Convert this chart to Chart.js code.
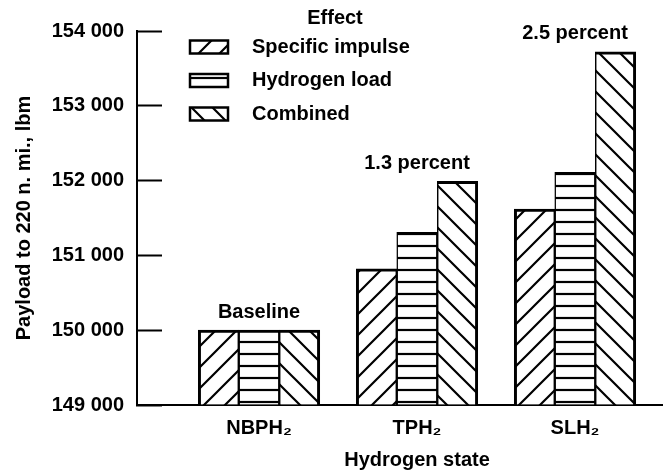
<!DOCTYPE html>
<html><head><meta charset="utf-8">
<script src="https://cdn.jsdelivr.net/npm/chart.js@4/dist/chart.umd.min.js"></script>
<style>html,body{margin:0;padding:0;background:#fff;overflow:hidden;width:663px;height:471px;}</style>
</head><body>
<canvas id="c" width="697" height="471"></canvas>
<script>
const categories = ['NBPH₂', 'TPH₂', 'SLH₂'];
const seriesNames = ['Specific impulse', 'Hydrogen load', 'Combined'];
const specificImpulse = [150000, 150820, 151620];
const hydrogenLoad = [150000, 151310, 152110];
const combined = [150000, 151990, 153720];
const groupNotes = ['Baseline', '1.3 percent', '2.5 percent'];
const yTickValues = [149000, 150000, 151000, 152000, 153000, 154000];
const yTickLabels = ['149 000', '150 000', '151 000', '152 000', '153 000', '154 000'];
const legendTitle = 'Effect';
const xTitle = 'Hydrogen state';
const yTitle = 'Payload to 220 n. mi., lbm';

const FAMILY = "'Liberation Sans', Arial, Helvetica, sans-serif";
const FONT = {family: FAMILY, size: 20, weight: 'bold'};

function makePattern(kind) {
  const s = kind === 'h' ? 12 : 21;
  const c = document.createElement('canvas');
  c.width = s; c.height = s;
  const g = c.getContext('2d');
  g.fillStyle = '#fff'; g.fillRect(0, 0, s, s);
  g.strokeStyle = '#000'; g.lineWidth = 2.2;
  g.beginPath();
  if (kind === 'h') {
    g.moveTo(0, s / 2); g.lineTo(s, s / 2);
  } else if (kind === 'f') {
    g.moveTo(-2, s + 2); g.lineTo(s + 2, -2);
    g.moveTo(-3, 3); g.lineTo(3, -3);
    g.moveTo(s - 3, s + 3); g.lineTo(s + 3, s - 3);
  } else {
    g.moveTo(-2, -2); g.lineTo(s + 2, s + 2);
    g.moveTo(s - 3, -3); g.lineTo(s + 3, 3);
    g.moveTo(-3, s - 3); g.lineTo(3, s + 3);
  }
  g.stroke();
  return g.createPattern(c, 'repeat');
}

const seriesValues = [specificImpulse, hydrogenLoad, combined];
const patterns = [makePattern('f'), makePattern('h'), makePattern('b')];
const sideBorders = [
  {top: 3, left: 3, right: 1.5, bottom: 0},
  {top: 3, left: 1.5, right: 1.5, bottom: 0},
  {top: 3, left: 1.5, right: 3, bottom: 0}
];
const yMin = yTickValues[0], yMax = yTickValues[yTickValues.length - 1];

const legendPlugin = {
  id: 'fxLegend',
  afterDraw(chart) {
    const ctx = chart.ctx;
    ctx.save();
    ctx.font = 'bold 20px ' + FAMILY;
    ctx.fillStyle = '#000';
    ctx.textBaseline = 'middle';
    ctx.textAlign = 'center';
    ctx.fillText(legendTitle, 335, 18);
    chart.data.datasets.forEach((ds, i) => {
      const cy = 47 + i * 33.5;
      ctx.fillStyle = ds.backgroundColor;
      ctx.fillRect(190, cy - 6.5, 38, 13);
      ctx.strokeStyle = '#000';
      ctx.lineWidth = 2.5;
      ctx.strokeRect(190, cy - 6.5, 38, 13);
      ctx.fillStyle = '#000';
      ctx.textAlign = 'left';
      ctx.fillText(ds.label, 252, cy);
    });
    ctx.restore();
  }
};

const notePlugin = {
  id: 'groupNotes',
  afterDatasetsDraw(chart) {
    const ctx = chart.ctx;
    const xs = chart.scales.x, ys = chart.scales.y;
    ctx.save();
    ctx.font = 'bold 20px ' + FAMILY;
    ctx.fillStyle = '#000';
    ctx.textAlign = 'center';
    ctx.textBaseline = 'middle';
    groupNotes.forEach((t, i) => {
      const top = Math.max(...seriesValues.map(s => s[i]));
      ctx.fillText(t, xs.getPixelForValue(i + 1), ys.getPixelForValue(top) - 18);
    });
    ctx.restore();
  }
};

new Chart(document.getElementById('c'), {
  type: 'bar',
  data: {
    datasets: seriesNames.map((n, k) => ({
      label: n,
      data: categories.map((c, i) => ({x: i + 1, y: seriesValues[k][i]})),
      backgroundColor: patterns[k],
      borderColor: '#000',
      borderWidth: sideBorders[k],
      borderSkipped: 'start',
      barThickness: 40.5,
      base: yMin
    }))
  },
  options: {
    responsive: false,
    animation: false,
    events: [],
    layout: {padding: {top: 31, right: 0, bottom: 0, left: 0}},
    plugins: {legend: {display: false}, tooltip: {enabled: false}},
    scales: {
      x: {
        type: 'linear',
        offset: false,
        min: 0.2278,
        max: 3.772,
        afterBuildTicks: s => { s.ticks = categories.map((c, i) => ({value: i + 1})); },
        afterFit: s => { s.height = 66; s.paddingLeft = 0; s.paddingRight = 0; },
        ticks: {
          callback: (v) => categories[Math.round(v) - 1],
          font: FONT, color: '#000', padding: 11, maxRotation: 0, autoSkip: false
        },
        grid: {display: false, drawTicks: false},
        border: {display: true, color: '#000', width: 2},
        title: {display: true, text: xTitle, font: {...FONT, lineHeight: 1}, color: '#000', padding: {top: 0, bottom: 1}}
      },
      y: {
        type: 'linear',
        min: yMin,
        max: yMax,
        afterBuildTicks: s => { s.ticks = yTickValues.map(v => ({value: v})); },
        afterFit: s => { s.width = 137; s.paddingTop = 0; s.paddingBottom = 0; },
        ticks: {
          callback: (v, i) => yTickLabels[i],
          font: FONT, color: '#000', padding: 38
        },
        grid: {display: true, drawOnChartArea: false, drawTicks: true, tickLength: -25, tickWidth: 2, tickColor: '#000'},
        border: {display: true, color: '#000', width: 2},
        title: {display: true, text: yTitle, font: FONT, color: '#000', padding: {top: 12.5, bottom: 0}}
      }
    }
  },
  plugins: [legendPlugin, notePlugin]
});
</script>
</body></html>
